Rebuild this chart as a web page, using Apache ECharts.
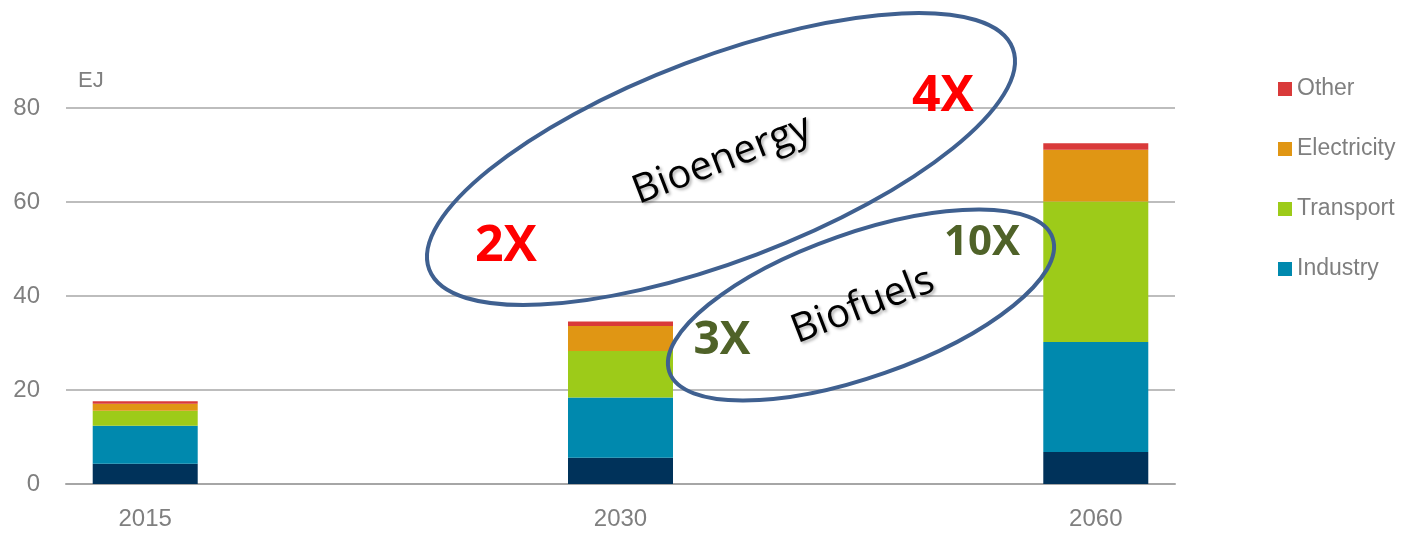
<!DOCTYPE html>
<html>
<head>
<meta charset="utf-8">
<script src="https://cdn.jsdelivr.net/npm/echarts@6/dist/echarts.min.js"></script>
<style>
  html, body { margin: 0; padding: 0; background: #fff; }
  #chart { width: 1403px; height: 533px; }
</style>
</head>
<body>
<div id="chart"></div>
<script>
// years shown on the x axis (bars sit in slots 0, 3, 6 of a 7 slot axis)
var years = ['2015', '2030', '2060'];
var yearSlots = [0, 3, 6];
var slotCount = 7;

// EJ per sector
var buildings = [4.3, 5.6, 6.8];
var industry = [8.1, 12.8, 23.4];
var transport = [3.2, 9.9, 29.9];
var electricity = [1.5, 5.3, 11.0];
var other = [0.5, 1.0, 1.4];

var yTicks = [0, 20, 40, 60, 80];

function toSlots(arr, fill) {
  var out = [];
  for (var i = 0; i < slotCount; i++) out.push(fill);
  for (var j = 0; j < arr.length; j++) out[yearSlots[j]] = arr[j];
  return out;
}

var myChart = echarts.init(document.getElementById('chart'));
var grey = '#7f7f7f';
var labelFont = 'Liberation Sans, Arial, sans-serif';
var noteFont = 'Open Sans, Noto Sans, sans-serif';
var ringColor = '#3f6090';

function bar(name, data, color) {
  return {
    name: name,
    type: 'bar',
    stack: 'total',
    barWidth: 105,
    data: toSlots(data, '-'),
    itemStyle: { color: color },
    emphasis: { disabled: true }
  };
}

var option = {
  animation: false,
  grid: { left: 66, right: 228, top: 108, bottom: 49 },
  legend: {
    orient: 'vertical',
    left: 1273,
    top: 72,
    itemWidth: 14,
    itemHeight: 14,
    itemGap: 36,
    icon: 'rect',
    data: ['Other', 'Electricity', 'Transport', 'Industry'],
    textStyle: { color: grey, fontSize: 23, fontFamily: labelFont, lineHeight: 24 }
  },
  xAxis: {
    type: 'category',
    data: toSlots(years, ''),
    axisTick: { show: false },
    axisLine: { lineStyle: { color: '#a6a6a6', width: 2 } },
    axisLabel: { color: grey, fontSize: 24, fontFamily: labelFont, margin: 23, interval: 0 }
  },
  yAxis: {
    type: 'value',
    min: yTicks[0],
    max: yTicks[yTicks.length - 1],
    interval: yTicks[1] - yTicks[0],
    name: 'EJ',
    nameLocation: 'end',
    nameGap: 27,
    nameTextStyle: { color: grey, fontSize: 22, fontFamily: labelFont, align: 'left', verticalAlign: 'middle', padding: [0, 0, 0, 12] },
    axisLine: { show: false },
    axisTick: { show: false },
    axisLabel: { color: grey, fontSize: 24, fontFamily: labelFont, margin: 26 },
    splitLine: { lineStyle: { color: '#bdbdbd', width: 2 } }
  },
  series: [
    bar('Buildings', buildings, '#00325a'),
    bar('Industry', industry, '#0089ae'),
    bar('Transport', transport, '#9dcb19'),
    bar('Electricity', electricity, '#e09614'),
    bar('Other', other, '#d93a3a')
  ],
  // annotation rings and growth notes on top of the chart
  graphic: [
    { type: 'ellipse', x: 721, y: 159, rotation: 20.75 * Math.PI / 180, shape: { cx: 0, cy: 0, rx: 312, ry: 102 }, style: { fill: null, stroke: ringColor, lineWidth: 4 }, z: 100 },
    { type: 'ellipse', x: 861, y: 305, rotation: 19.3 * Math.PI / 180, shape: { cx: 0, cy: 0, rx: 203, ry: 72 }, style: { fill: null, stroke: ringColor, lineWidth: 4 }, z: 100 },
    { type: 'text', x: 722, y: 160, rotation: 21 * Math.PI / 180, z: 101,
      style: { text: 'Bioenergy', font: '40px ' + noteFont, fill: '#000', align: 'center', verticalAlign: 'middle', textShadowColor: 'rgba(0,0,0,0.3)', textShadowBlur: 3, textShadowOffsetX: 2, textShadowOffsetY: 2 } },
    { type: 'text', x: 863, y: 306, rotation: 21 * Math.PI / 180, z: 101,
      style: { text: 'Biofuels', font: '40px ' + noteFont, fill: '#000', align: 'center', verticalAlign: 'middle', textShadowColor: 'rgba(0,0,0,0.3)', textShadowBlur: 3, textShadowOffsetX: 2, textShadowOffsetY: 2 } },
    { type: 'text', x: 506, y: 247, z: 101, style: { text: '2X', font: 'bold 50px ' + noteFont, fill: '#ff0000', align: 'center', verticalAlign: 'middle' } },
    { type: 'text', x: 943, y: 97, z: 101, style: { text: '4X', font: 'bold 50px ' + noteFont, fill: '#ff0000', align: 'center', verticalAlign: 'middle' } },
    { type: 'text', x: 722, y: 341, z: 101, style: { text: '3X', font: 'bold 46px ' + noteFont, fill: '#4f6228', align: 'center', verticalAlign: 'middle' } },
    { type: 'text', x: 982, y: 243, z: 101, style: { text: '10X', font: 'bold 42px ' + noteFont, fill: '#4f6228', align: 'center', verticalAlign: 'middle' } }
  ]
};

myChart.setOption(option);
</script>
</body>
</html>
